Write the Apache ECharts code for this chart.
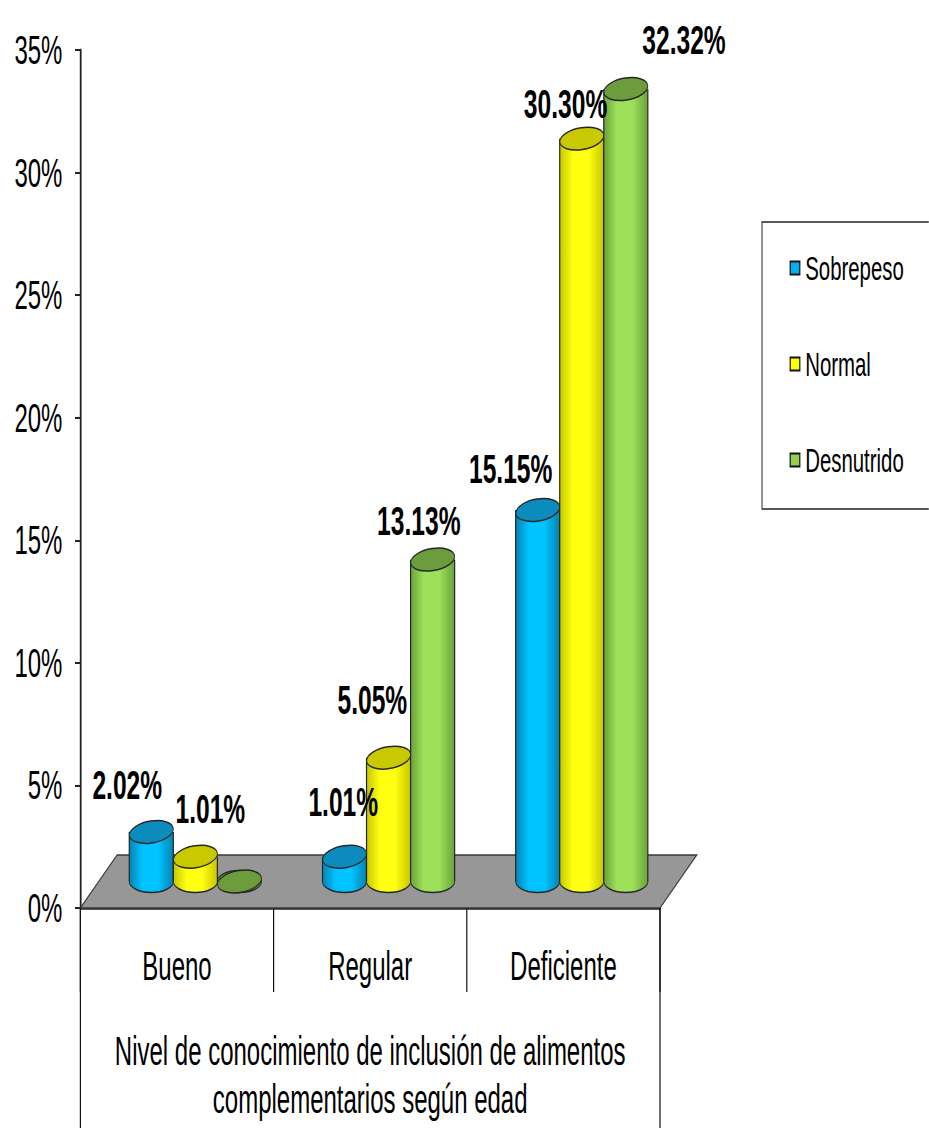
<!DOCTYPE html>
<html>
<head>
<meta charset="utf-8">
<script src="https://cdn.jsdelivr.net/npm/echarts@6/dist/echarts.min.js"></script>
<style>
  html, body { margin: 0; padding: 0; background: #fff; overflow: hidden; }
  #wrap { width: 929px; height: 1128px; overflow: hidden; }
  /* The chart is laid out wide and then condensed horizontally,
     which gives the tall, narrow lettering of the figure. */
  #chart { width: 1548.33px; height: 1128px; transform: scaleX(0.6); transform-origin: 0 0; }
</style>
</head>
<body>
<div id="wrap"><div id="chart"></div></div>
<script>
// ---- data -------------------------------------------------------------
const categories = ['Bueno', 'Regular', 'Deficiente'];
const seriesNames = ['Sobrepeso', 'Normal', 'Desnutrido'];
const sobrepeso = [2.02, 1.01, 15.15];
const normal = [1.01, 5.05, 30.30];
const desnutrido = [0, 13.13, 32.32];
const yMin = 0, yMax = 35, yStep = 5;
const axisTitle = 'Nivel de conocimiento de inclusión de alimentos\ncomplementarios según edad';

// ---- styling ----------------------------------------------------------
const FONT = '"Liberation Sans", Arial, sans-serif';
const palette = [
  { legend: '#00b0f0', edge: '#0682b4', mid: '#00c4ff', top: '#0b8cbc' },
  { legend: '#ffff00', edge: '#c6c600', mid: '#ffff10', top: '#c9c900' },
  { legend: '#92d050', edge: '#6aa23a', mid: '#9ee05a', top: '#6c9c3c' }
];
const OUTLINE = '#262626';

// value-label placement relative to the top of each cylinder (px), per series
const labelNudge = [
  [[-40, -48], [-2, -55], [-45, -42]],
  [[25, -48], [-27, -58], [-27, -35]],
  [[0, -46], [-23, -39], [97, -50]]
];

// 3D projection of the floor: the back edge is shifted right and up
const DEPTH_FRAC_X = 0.19;   // fraction of a category band
const DEPTH_Y = 53;          // px
const BAR_FRAC = 0.228;      // cylinder width as fraction of a band
const ELLIPSE_RY = 11;

function cylinder(k) {
  return function (params, api) {
    const i = api.value(0);
    const v = api.value(1);
    const base = api.coord([i, 0]);
    const top = api.coord([i, v]);
    const band = api.size([1, 0])[0];
    const w = band * BAR_FRAC;
    const rx = w / 2;
    const cx = base[0] + band * DEPTH_FRAC_X / 2 + (k - 1) * w;
    const y0 = base[1] - DEPTH_Y / 2;
    const y1 = top[1] - DEPTH_Y / 2;
    const pal = palette[k];
    const body = new echarts.graphic.LinearGradient(0, 0, 1, 0, [
      { offset: 0, color: pal.edge },
      { offset: 0.3, color: pal.mid },
      { offset: 0.65, color: pal.mid },
      { offset: 1, color: pal.edge }
    ]);
    const children = [
      { type: 'ellipse', shape: { cx: cx, cy: y0, rx: rx, ry: ELLIPSE_RY },
        style: { fill: body, stroke: OUTLINE, lineWidth: 1.4 } },
      { type: 'rect', shape: { x: cx - rx, y: y1, width: w, height: Math.max(0, y0 - y1) },
        style: { fill: body } },
      { type: 'line', shape: { x1: cx - rx, y1: y1, x2: cx - rx, y2: y0 },
        style: { stroke: OUTLINE, lineWidth: 2 } },
      { type: 'line', shape: { x1: cx + rx, y1: y1, x2: cx + rx, y2: y0 },
        style: { stroke: OUTLINE, lineWidth: 2 } },
      { type: 'ellipse', shape: { cx: cx, cy: y1, rx: rx, ry: ELLIPSE_RY },
        rotation: 0.09, originX: cx, originY: y1,
        style: { fill: pal.top, stroke: OUTLINE, lineWidth: 1.5 } }
    ];
    if (v > 0) {
      const nudge = labelNudge[k][i];
      children.push({
        type: 'text', z2: 100,
        x: cx + nudge[0], y: y1 + nudge[1],
        style: {
          text: v.toFixed(2) + '%',
          fontFamily: FONT, fontSize: 41, fontWeight: 'bold',
          fill: '#000', align: 'center', verticalAlign: 'middle'
        }
      });
    }
    return { type: 'group', children: children };
  };
}

function floor(params, api) {
  const cs = params.coordSys;
  const band = api.size([1, 0])[0];
  const dx = band * DEPTH_FRAC_X;
  const x0 = cs.x, x1 = cs.x + cs.width;
  const y0 = api.coord([0, 0])[1];
  const H = api.getHeight();
  return {
    type: 'group',
    children: [
      { type: 'polygon',
        shape: { points: [[x0, y0], [x1, y0], [x1 + dx, y0 - DEPTH_Y], [x0 + dx, y0 - DEPTH_Y]] },
        style: { fill: '#979797', stroke: '#3a3a3a', lineWidth: 1.6 } },
      { type: 'line', shape: { x1: x0, y1: y0, x2: x0, y2: H },
        style: { stroke: '#111', lineWidth: 2 } },
      { type: 'line', shape: { x1: x1, y1: y0, x2: x1, y2: H },
        style: { stroke: '#111', lineWidth: 2 } }
    ]
  };
}

const values = [sobrepeso, normal, desnutrido];

const chart = echarts.init(document.getElementById('chart'), null, { renderer: 'svg' });

chart.setOption({
  animation: false,
  backgroundColor: '#fff',
  grid: { left: 134, right: 448, top: 50, bottom: 214 },
  legend: {
    orient: 'vertical',
    left: 1270, top: 222,
    data: seriesNames.map(function (n) { return { name: n, icon: 'rect' }; }),
    itemWidth: 16, itemHeight: 13, itemGap: 62,
    itemStyle: { borderColor: '#111', borderWidth: 2 },
    padding: [29, 60, 32, 46],
    borderColor: '#222', borderWidth: 1.6,
    textStyle: { fontFamily: FONT, fontSize: 34, color: '#000', padding: [0, 0, 0, 4] }
  },
  xAxis: {
    type: 'category',
    data: categories,
    boundaryGap: true,
    name: axisTitle,
    nameLocation: 'middle',
    nameGap: 119,
    nameTextStyle: { fontFamily: FONT, fontSize: 40, lineHeight: 48, color: '#000' },
    axisLine: { lineStyle: { color: '#222', width: 2.5 } },
    axisTick: { show: true, interval: 0, length: 84, lineStyle: { color: '#111', width: 2 } },
    axisLabel: { fontFamily: FONT, fontSize: 40, color: '#000', margin: 38, interval: 0 },
    splitLine: { show: false }
  },
  yAxis: {
    type: 'value',
    min: yMin, max: yMax, interval: yStep,
    axisLine: { show: true, lineStyle: { color: '#222', width: 3 } },
    axisTick: { show: true, length: 9, lineStyle: { color: '#222', width: 2 } },
    axisLabel: { fontFamily: FONT, fontSize: 40, color: '#000', margin: 30,
                 formatter: '{value}%' },
    splitLine: { show: false }
  },
  series: [
    { type: 'custom', name: 'floor', z: 1, renderItem: floor, data: [[0, 0]],
      encode: { x: 0, y: 1 }, silent: true }
  ].concat(values.map(function (arr, k) {
    return {
      type: 'custom',
      name: seriesNames[k],
      z: 2,
      itemStyle: { color: palette[k].legend },
      renderItem: cylinder(k),
      encode: { x: 0, y: 1 },
      data: arr.map(function (v, i) { return [i, v]; })
    };
  }))
});
</script>
</body>
</html>
